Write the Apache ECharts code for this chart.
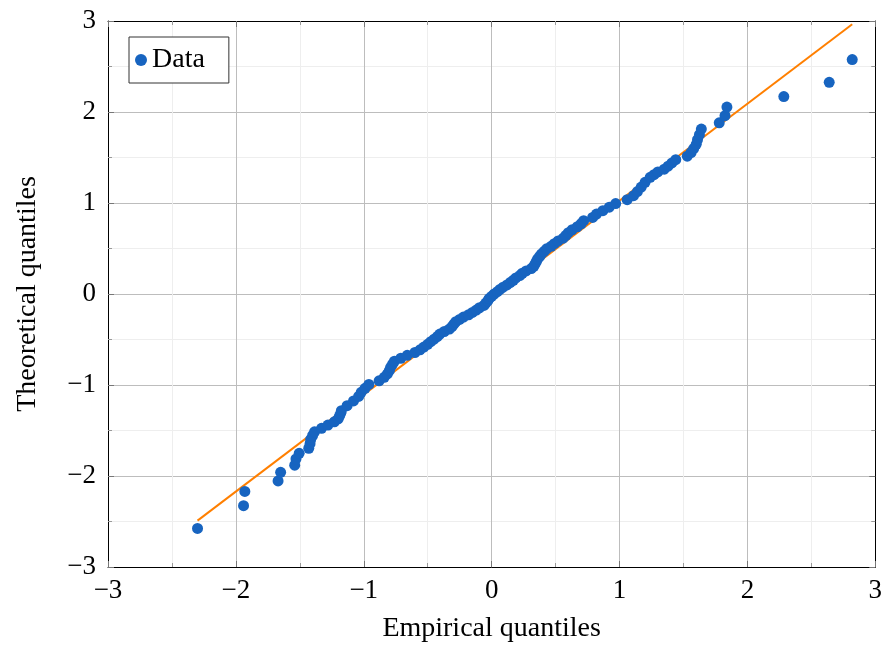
<!DOCTYPE html>
<html>
<head>
<meta charset="utf-8">
<script src="https://cdn.jsdelivr.net/npm/echarts@6/dist/echarts.min.js"></script>
<style>
  html, body { margin: 0; padding: 0; background: #fff; }
  #chart { width: 885px; height: 648px; }
</style>
</head>
<body>
<div id="chart"></div>
<script>
/****** DATA ******/
// empirical quantiles (x)
var empirical = [
  -2.30, -1.94, -1.93, -1.67, -1.65, -1.54, -1.53, -1.505, -1.43, -1.42,
  -1.415, -1.40, -1.385, -1.33, -1.28, -1.23, -1.20, -1.19, -1.18, -1.175,
  -1.13, -1.08, -1.04, -1.02, -0.99, -0.96, -0.88, -0.84, -0.815, -0.80,
  -0.79, -0.775, -0.76, -0.71, -0.66, -0.60, -0.56, -0.53, -0.50, -0.476,
  -0.45, -0.425, -0.405, -0.37, -0.33, -0.31, -0.295, -0.28, -0.25, -0.22,
  -0.18, -0.15, -0.12, -0.095, -0.06, -0.045, -0.03, -0.02, 0.0,
  0.02,
  0.045, 0.065, 0.09, 0.12, 0.145, 0.17, 0.19, 0.22, 0.24, 0.27,
  0.31, 0.33, 0.34, 0.35, 0.36, 0.375, 0.39, 0.41, 0.43, 0.465,
  0.49, 0.52, 0.56, 0.58, 0.60, 0.63, 0.67, 0.70, 0.72, 0.79,
  0.82, 0.87, 0.92, 0.97, 1.06, 1.11, 1.14, 1.17, 1.20, 1.24,
  1.27, 1.30, 1.35, 1.38, 1.41, 1.44, 1.53, 1.56, 1.58, 1.60,
  1.61, 1.625, 1.64, 1.78, 1.825, 1.84, 2.285, 2.64, 2.82
];
// theoretical quantiles (y)
var theoretical = [
  -2.576, -2.326, -2.17, -2.054, -1.96, -1.881, -1.812, -1.751, -1.695, -1.645,
  -1.598, -1.555, -1.514, -1.476, -1.44, -1.405, -1.372, -1.341, -1.311, -1.282,
  -1.227, -1.175, -1.126, -1.08, -1.036, -0.994, -0.954, -0.915, -0.878, -0.842,
  -0.806, -0.772, -0.739, -0.706, -0.674, -0.643, -0.613, -0.583, -0.553, -0.524,
  -0.496, -0.468, -0.44, -0.412, -0.385, -0.358, -0.332, -0.305, -0.279, -0.253,
  -0.228, -0.202, -0.176, -0.151, -0.126, -0.1, -0.075, -0.05, -0.025,
  0.0,
  0.025, 0.05, 0.075, 0.1, 0.126, 0.151, 0.176, 0.202, 0.228, 0.253,
  0.279, 0.305, 0.332, 0.358, 0.385, 0.412, 0.44, 0.468, 0.496, 0.524,
  0.553, 0.583, 0.613, 0.643, 0.674, 0.706, 0.739, 0.772, 0.806, 0.842,
  0.878, 0.915, 0.954, 0.994, 1.036, 1.08, 1.126, 1.175, 1.227, 1.282,
  1.311, 1.341, 1.372, 1.405, 1.44, 1.476, 1.514, 1.555, 1.598, 1.645,
  1.695, 1.751, 1.812, 1.881, 1.96, 2.054, 2.17, 2.326, 2.576
];
// reference line end points
var fitX = [-2.30, 2.82];
var fitY = [-2.49, 2.965];

/****** CHART ******/
var font = 'Liberation Serif';
var blue = '#1764c0';
var orange = '#ff7f00';

function fmt(v) {
  return String(v).replace('-', '\u2212');
}

var scatterData = [];
for (var i = 0; i < empirical.length; i++) {
  scatterData.push([empirical[i], theoretical[i]]);
}
var lineData = [[fitX[0], fitY[0]], [fitX[1], fitY[1]]];

function axisBase(pos, showLabel) {
  return {
    type: 'value',
    position: pos,
    min: -3,
    max: 3,
    interval: 1,
    axisLine: { show: true, onZero: false, lineStyle: { color: '#000', width: 1 } },
    axisTick: { show: true, inside: true, length: 6, lineStyle: { color: '#777' } },
    minorTick: { show: true, splitNumber: 2, length: 4, lineStyle: { color: '#999' } },
    axisLabel: {
      show: showLabel,
      fontFamily: font,
      fontSize: 27,
      color: '#000',
      formatter: fmt
    },
    splitLine: { show: showLabel, lineStyle: { color: '#bdbdbd', width: 1 } },
    minorSplitLine: { show: showLabel, lineStyle: { color: '#eeeeee', width: 1 } }
  };
}

var xMain = axisBase('bottom', true);
xMain.name = 'Empirical quantiles';
xMain.nameLocation = 'middle';
xMain.nameGap = 48;
xMain.nameTextStyle = { fontFamily: font, fontSize: 28, color: '#000' };
xMain.axisLabel.margin = 10;

var yMain = axisBase('left', true);
yMain.name = 'Theoretical quantiles';
yMain.nameLocation = 'middle';
yMain.nameGap = 66;
yMain.nameTextStyle = { fontFamily: font, fontSize: 28, color: '#000' };
yMain.axisLabel.margin = 12;

var option = {
  animation: false,
  backgroundColor: '#fff',
  grid: { left: 108, right: 8, top: 21, bottom: 81 },
  legend: {
    left: 129,
    top: 37,
    orient: 'vertical',
    data: [{ name: 'Data', icon: 'circle' }],
    itemWidth: 12,
    itemHeight: 12,
    padding: [9, 24, 9, 6],
    backgroundColor: '#fff',
    borderColor: '#333',
    borderWidth: 1,
    borderRadius: 0,
    textStyle: { fontFamily: font, fontSize: 28, color: '#000' }
  },
  xAxis: [xMain, axisBase('top', false)],
  yAxis: [yMain, axisBase('right', false)],
  series: [
    {
      name: 'Fit',
      type: 'line',
      data: lineData,
      showSymbol: false,
      lineStyle: { color: orange, width: 2 },
      z: 2
    },
    {
      name: 'Data',
      type: 'scatter',
      data: scatterData,
      symbol: 'circle',
      symbolSize: 11,
      itemStyle: { color: blue, opacity: 1 },
      z: 3
    }
  ]
};

var myChart = echarts.init(document.getElementById('chart'));
myChart.setOption(option);
</script>
</body>
</html>
